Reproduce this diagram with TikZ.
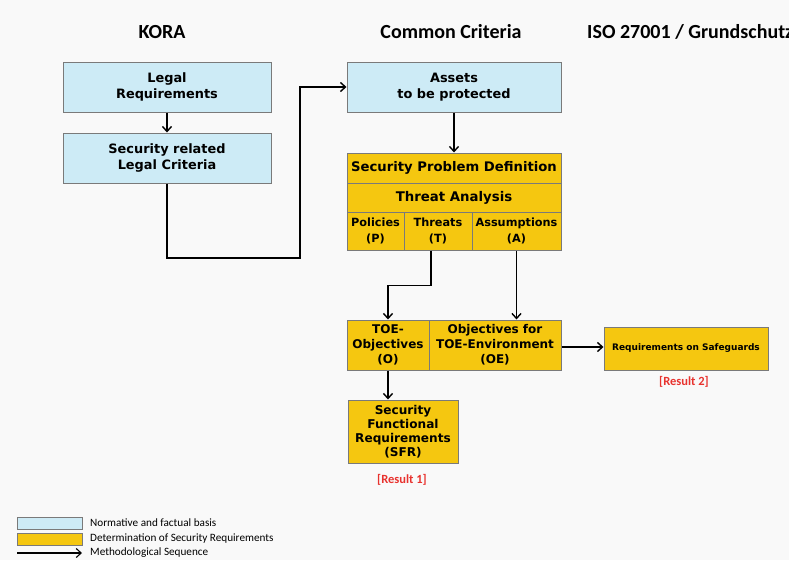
\documentclass[tikz,border=0pt]{standalone}
\usepackage{fontspec}
\setmainfont{Carlito}
\newfontfamily\boxfont{DejaVu Sans}
\definecolor{KORAblau}{HTML}{CDEBF6}
\definecolor{CCgelb}{HTML}{F5C710}
\definecolor{rahmen}{HTML}{7A7A7A}
\definecolor{hinter}{HTML}{F9F9F9}
\definecolor{ergebnis}{HTML}{E8322E}
\usetikzlibrary{arrows.meta}

\begin{document}
\begin{tikzpicture}[x=1pt, y=-1pt,
      basis/.style={rectangle, draw=rahmen, fill=KORAblau, line width=1pt, inner sep=0pt,
                    align=center, font=\boxfont\bfseries\fontsize{12.9}{16}\selectfont},
      anf/.style={rectangle, draw=rahmen, fill=CCgelb, line width=1pt, inner sep=0pt,
                  align=center, font=\boxfont\bfseries\fontsize{12.1}{14}\selectfont},
      titel/.style={font=\bfseries\fontsize{20}{23}\selectfont},
      ergtext/.style={text=ergebnis, font=\bfseries\fontsize{12.5}{14}\selectfont},
      legtext/.style={anchor=west, inner sep=0pt, font=\fontsize{11.2}{13}\selectfont},
      pfeil/.style={-{Straight Barb[length=5pt, width=9pt]}, line width=1.4pt}
    ]
    \useasboundingbox (0,0) rectangle (789,560);
    \clip (0,0) rectangle (789,560);
    \fill[hinter] (0,0) rectangle (789,560);

    % Spaltenkoepfe
    \node[titel] (kora) at (162,32) {KORA};
    \node[titel] (cc) at (451,32) {Common Criteria};
    \node[titel, anchor=west, inner sep=0pt] (iso) at (587,32) {ISO 27001 / Grundschutz};

    % KORA
    \node[basis, minimum width=208, minimum height=50] (recht) at (167,87) {Legal\\Requirements};
    \node[basis, minimum width=208, minimum height=50] (krit) at (167,158) {Security related\\Legal Criteria};

    % Common Criteria
    \node[basis, minimum width=214, minimum height=50] (assets) at (454,87) {Assets\\to be protected};
    \node[anf, minimum width=214, minimum height=30, font=\boxfont\bfseries\fontsize{13.2}{15}\selectfont] (spd) at (454,168) {Security Problem Definition};
    \node[anf, minimum width=214, minimum height=29, font=\boxfont\bfseries\fontsize{13.3}{15}\selectfont] (threat) at (454,197.5) {Threat Analysis};
    \node[anf, minimum width=57, minimum height=38, font=\boxfont\bfseries\fontsize{11.3}{16}\selectfont] (pol) at (375.5,231) {Policies\\(P)};
    \node[anf, minimum width=68, minimum height=38, font=\boxfont\bfseries\fontsize{11.3}{16}\selectfont] (thr) at (438,231) {Threats\\(T)};
    \node[anf, minimum width=89, minimum height=38, font=\boxfont\bfseries\fontsize{11.3}{16}\selectfont] (ass) at (516.5,231) {Assumptions\\(A)};
    \node[anf, minimum width=82, minimum height=50, font=\boxfont\bfseries\fontsize{12}{15}\selectfont] (toeo) at (388,345) {TOE-\\Objectives\\(O)};
    \node[anf, minimum width=132, minimum height=50, font=\boxfont\bfseries\fontsize{12}{15}\selectfont] (oe) at (495,345) {Objectives for\\TOE-Environment\\(OE)};
    \node[anf, minimum width=110, minimum height=63] (sfr) at (403,431.5) {Security\\Functional\\Requirements\\(SFR)};
    \node[ergtext] (erg1) at (402,480) {[Result 1]};

    % ISO 27001
    \node[anf, minimum width=164, minimum height=43, font=\boxfont\bfseries\fontsize{9}{10}\selectfont] (safe) at (686,348.5) {Requirements on Safeguards};
    \node[ergtext] (erg2) at (684,382) {[Result 2]};

    % Verbindungen
    \coordinate (knick) at (300,258);
    \draw[pfeil] (recht) -- (krit);
    \draw[pfeil] (krit.south) |- (knick) |- (assets.west);
    \draw[pfeil] (assets) -- (spd);
    \draw[pfeil] (thr.south -| 431,0) -- ++(0,35) -| (toeo.north);
    \draw[pfeil] (ass.south) -- (ass.south |- oe.north);
    \draw[pfeil] (oe.east |- 0,347) -- (safe.west |- 0,347);
    \draw[pfeil] (toeo.south) -- (toeo.south |- sfr.north);

    % Legende
    \node[rectangle, draw=rahmen, fill=KORAblau, line width=0.8pt, minimum width=65, minimum height=12, inner sep=0pt] (legb) at (49.5,523) {};
    \node[rectangle, draw=rahmen, fill=CCgelb, line width=0.8pt, minimum width=65, minimum height=12, inner sep=0pt] (legg) at (49.5,539) {};
    \coordinate (lega) at (17,553);
    \coordinate (legz) at (82,553);
    \draw[pfeil, line width=1.1pt] (lega) -- (legz);
    \node[legtext] (legtb) at (90,523) {Normative and factual basis};
    \node[legtext] (legtg) at (90,539) {Determination of Security Requirements};
    \node[legtext] (legtp) at (90,553) {Methodological Sequence};
  \end{tikzpicture}
\end{document}
